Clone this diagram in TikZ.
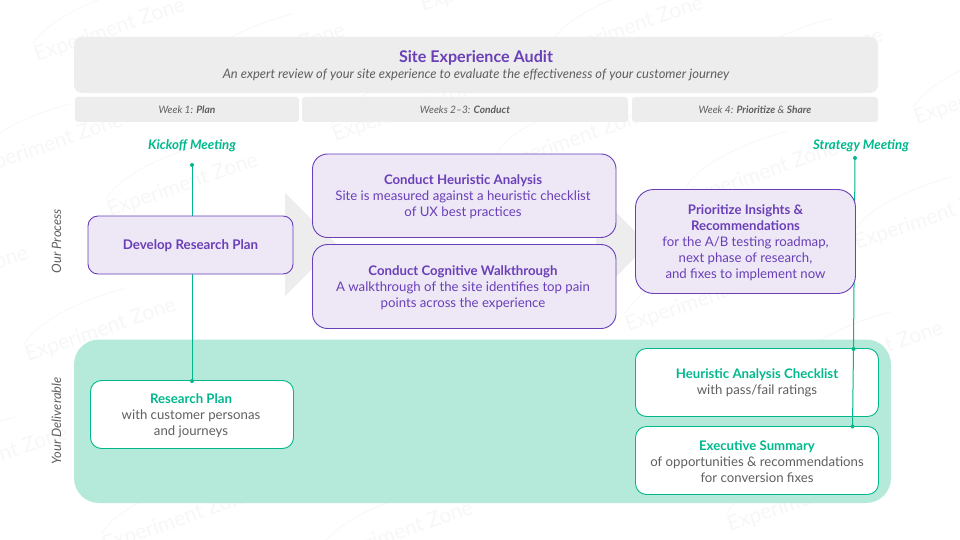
\documentclass[tikz,border=0pt]{standalone}
\usepackage{fontspec}
\setmainfont{Lato}
\definecolor{hdr}{HTML}{EDEDED}
\definecolor{pur}{HTML}{6A3FB8}
\definecolor{purfill}{HTML}{EDE7F6}
\definecolor{grn}{HTML}{00B88C}
\definecolor{band}{HTML}{B5E9D9}
\definecolor{txt}{HTML}{5F5F5F}
\definecolor{wmk}{HTML}{F7F7F7}
\tikzset{
  hdrbar/.style={fill=hdr,rounded corners=#1,inner sep=0pt},
  procbox/.style={draw=pur,line width=0.9pt,fill=purfill,inner sep=0pt},
  delivbox/.style={draw=grn,line width=0.9pt,fill=white,inner sep=0pt},
  proctext/.style={text=pur,align=center,inner sep=0pt,font=\fontsize{13.2}{16}\selectfont},
  delivtext/.style={text=txt,align=center,inner sep=0pt,font=\fontsize{13.2}{16}\selectfont},
  meet/.style={text=grn,font=\fontsize{13.2}{16}\selectfont\bfseries\itshape,inner sep=0pt},
  side/.style={text=txt,font=\fontsize{12.9}{15}\selectfont\itshape,rotate=90,inner sep=0pt},
  week/.style={text=txt,font=\fontsize{10.2}{13}\selectfont\itshape,inner sep=0pt},
  dot/.style={circle,fill=grn,minimum size=4pt,inner sep=0pt},
  conn/.style={draw=grn,line width=1pt},
  bigarrow/.style={fill=hdr},
}
\newcommand{\wm}[2]{\begin{scope}[shift={(#1,#2)},rotate=19,transform shape]
  \node[anchor=base west,inner sep=0pt,text=wmk,font=\fontsize{21}{21}\selectfont] at (0,0) {Experiment Zone};
  \draw[wmk,line width=0.8pt] (2,-18) .. controls (20,-34) and (65,-42) .. (115,-38);
\end{scope}}
\begin{document}
\begin{tikzpicture}[x=1pt,y=-1pt]
\useasboundingbox (0,0) rectangle (960,540);
\fill[white] (0,0) rectangle (960,540);
% watermarks
\wm{37}{62}\wm{197}{87}\wm{423}{12}\wm{555}{60}\wm{735}{92}
\wm{-25}{177}\wm{110}{217}\wm{335}{142}\wm{500}{172}\wm{690}{205}\wm{917}{125}
\wm{-120}{310}\wm{857}{250}\wm{28}{362}\wm{628}{332}\wm{795}{385}
\wm{-80}{490}\wm{105}{552}\wm{325}{565}\wm{730}{532}
% large process arrows
\fill[bigarrow] (285,193) -- (337,244.5) -- (285,296) -- cycle;
\fill[bigarrow] (596,192) -- (648,244.5) -- (596,297) -- cycle;
% header
\node[hdrbar=8pt,minimum width=804pt,minimum height=56pt] (head) at (476,65) {};
\node[text=pur,font=\fontsize{16.1}{19}\selectfont\bfseries,inner sep=0pt] (title) at (476,58) {Site Experience Audit};
\node[text=txt,font=\fontsize{12.95}{16}\selectfont\itshape,inner sep=0pt] (sub) at (476,75) {An expert review of your site experience to evaluate the effectiveness of your customer journey};
\node[hdrbar=3pt,minimum width=224pt,minimum height=25pt] (w1) at (187,109.5) {};
\node[hdrbar=3pt,minimum width=326pt,minimum height=25pt] (w2) at (465,109.5) {};
\node[hdrbar=3pt,minimum width=246pt,minimum height=25pt] (w3) at (755,109.5) {};
\node[week] (w1t) at (187,110) {Week 1: \textbf{Plan}};
\node[week] (w2t) at (465,110) {Weeks 2–3: \textbf{Conduct}};
\node[week] (w3t) at (755,110) {Week 4: \textbf{Prioritize} \& \textbf{Share}};
% side labels
\node[side] (our) at (56.5,241) {Our Process};
\node[side] (your) at (56.5,421) {Your Deliverable};
% deliverable band
\fill[band,rounded corners=25pt] (74,339.5) rectangle (891,503);
% deliverables
\node[delivbox,rounded corners=11pt,minimum width=203pt,minimum height=68pt] (rp) at (192,414.5) {};
\node[delivtext] (rpt) at (191,415.5) {{\color{grn}\bfseries Research Plan}\\with customer personas\\and journeys};
\node[delivbox,rounded corners=11pt,minimum width=243pt,minimum height=68pt] (hc) at (757,382.5) {};
\node[delivtext] (hct) at (757,382.5) {{\color{grn}\bfseries Heuris{}tic Analysis Checklist}\\with pass/fail ratings};
\node[delivbox,rounded corners=11pt,minimum width=243pt,minimum height=68pt] (ex) at (757,460.5) {};
\node[delivtext] (ext) at (757,461.5) {{\color{grn}\bfseries Execu{}tive Summary}\\of opportuni{}ties \& recommenda{}tions\\for conversion fixes};
% meetings and connectors
\node[meet] (kick) at (192,146) {Kickoff Meeting};
\node[meet] (strat) at (861,146) {Strategy Meeting};
\node[dot] (d1) at (192,165) {};
\node[dot] (d2) at (192,381) {};
\node[dot] (d3) at (855,158) {};
\node[dot] (d4) at (853.5,349) {};
\node[dot] (d5) at (852.5,426.5) {};
\draw[conn] (d1.center) -- (d2.center);
\draw[conn] (d3.center) -- (d4.center);
\draw[conn] (d4.center) -- (d5.center);
% process boxes
\node[procbox,rounded corners=10pt,minimum width=205pt,minimum height=58pt] (dev) at (190.5,245) {};
\node[proctext,font=\fontsize{13.3}{16}\selectfont\bfseries] (devt) at (190.5,245.5) {Develop Research Plan};
\node[procbox,rounded corners=15pt,minimum width=303.5pt,minimum height=83.5pt] (ha) at (464.25,195.75) {};
\node[proctext] (hat) at (463,196.5) {\textbf{Conduct Heuris{}tic Analysis}\\Site is measured against a heuris{}tic checklist\\of UX best prac{}tices};
\node[procbox,rounded corners=15pt,minimum width=303.5pt,minimum height=84pt] (cw) at (464.25,286.5) {};
\node[proctext] (cwt) at (463,287.5) {\textbf{Conduct Cogni{}tive Walkthrough}\\A walkthrough of the site iden{}tifies top pain\\points across the experience};
\node[procbox,rounded corners=18pt,minimum width=220pt,minimum height=104pt] (pi) at (745.5,241.5) {};
\node[proctext] (pit) at (745.5,242.5) {\textbf{Priori{}tize Insights \&}\\\textbf{Recommenda{}tions}\\for the A/B tes{}ting roadmap,\\next phase of research,\\and fixes to implement now};
\end{tikzpicture}
\end{document}
